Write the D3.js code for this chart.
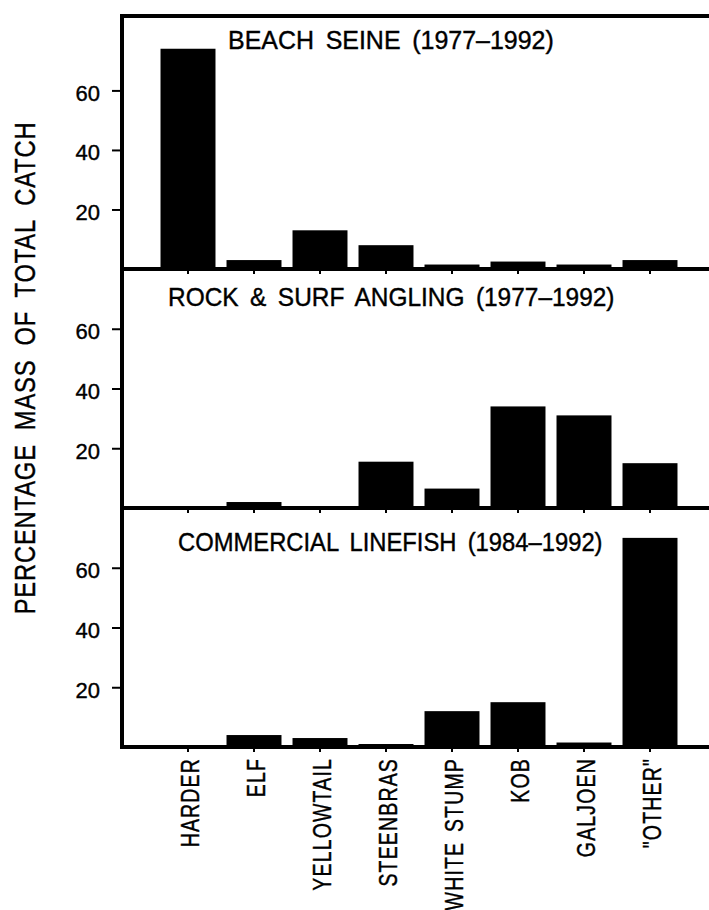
<!DOCTYPE html>
<html>
<head>
<meta charset="utf-8">
<script src="https://cdn.jsdelivr.net/npm/d3@7"></script>
<style>
  html, body { margin: 0; padding: 0; background: #fff; }
  svg { display: block; }
  text { font-family: "Liberation Sans", Arial, Helvetica, sans-serif; fill: #000; stroke: #000; stroke-width: 0.4px; }
</style>
</head>
<body>
<script>
// Species groups along the x axis
const categories = ["HARDER", "ELF", "YELLOWTAIL", "STEENBRAS", "WHITE STUMP", "KOB", "GALJOEN", "\"OTHER\""];

// Percentage of total catch mass per fishery
const beachSeine = [74, 3, 13, 8, 1.5, 2.5, 1.5, 3];
const rockSurfAngling = [0, 2, 0.5, 15.5, 6.5, 34, 31, 15];
const commercialLinefish = [0, 4, 3, 1, 12, 15, 1.5, 70];

// Panel headings
const panelTitles = [
  "BEACH SEINE (1977\u20131992)",
  "ROCK & SURF ANGLING (1977\u20131992)",
  "COMMERCIAL LINEFISH (1984\u20131992)"
];

// Y axis
const yTickValues = [20, 40, 60];
const yMaxima = [85, 80, 80];
const yAxisTitle = "PERCENTAGE MASS OF TOTAL CATCH";

const series = [beachSeine, rockSurfAngling, commercialLinefish];

// ---- layout ----
const W = 709, H = 910;
const left = 122, right = 714;
const panelEdges = [16, 269, 508, 747];           // top of first panel, then each panel's baseline
const titleAnchors = [[228, 49], [168, 305.5], [178, 550.5]];
const titleScales = [0.96, 0.94, 0.915];
const frameWidth = 4;

const svg = d3.select("body").append("svg")
  .attr("width", W).attr("height", H);

const x = d3.scaleBand()
  .domain(categories)
  .range([155, 683])
  .paddingInner(0.167)
  .paddingOuter(0.0835);

series.forEach((values, i) => {
  const top = panelEdges[i], bottom = panelEdges[i + 1];
  const y = d3.scaleLinear().domain([0, yMaxima[i]]).range([bottom, top]);
  const g = svg.append("g").attr("class", "panel");

  // bars
  g.selectAll("rect.bar")
    .data(values.map((v, k) => ({ cat: categories[k], v })))
    .join("rect")
    .attr("class", "bar")
    .attr("x", d => x(d.cat))
    .attr("width", x.bandwidth())
    .attr("y", d => y(d.v))
    .attr("height", d => y(0) - y(d.v))
    .attr("fill", "#000");

  // left value axis
  const ya = g.append("g")
    .attr("transform", `translate(${left},0)`)
    .call(d3.axisLeft(y).tickValues(yTickValues).tickSize(10).tickPadding(12).tickFormat(d3.format("d")));
  ya.select(".domain").remove();
  ya.selectAll(".tick line").attr("stroke", "#000").attr("stroke-width", 2);
  ya.selectAll(".tick text")
    .attr("font-size", 22)
    .attr("dy", "0.45em")
    .attr("font-family", "'Liberation Sans', Arial, sans-serif");

  // category ticks below each baseline
  const xa = g.append("g")
    .attr("transform", `translate(0,${bottom})`)
    .call(d3.axisBottom(x).tickSize(5).tickFormat(i === 2 ? (d => d) : () => ""));
  xa.select(".domain").remove();
  xa.selectAll(".tick line").attr("stroke", "#000").attr("stroke-width", 2);

  if (i === 2) {
    const sx = 0.78;
    xa.selectAll(".tick text")
      .attr("font-size", 25)
      .attr("font-family", "'Liberation Sans', Arial, sans-serif")
      .attr("letter-spacing", "1.5px")
      .attr("word-spacing", "4px")
      .attr("text-anchor", "end")
      .attr("transform", `rotate(-90) scale(${sx},1)`)
      .attr("x", -11 / sx)
      .attr("y", 2)
      .attr("dy", "0.36em");
  }

  // panel heading
  g.append("text")
    .attr("transform", `translate(${titleAnchors[i][0]},${titleAnchors[i][1]}) scale(${titleScales[i]},1)`)
    .attr("font-size", 26)
    .attr("word-spacing", "5px")
    .text(panelTitles[i]);
});

// frame: left edge, top edge and the baseline of each panel
const frame = d3.path();
frame.moveTo(right, panelEdges[0]);
frame.lineTo(left, panelEdges[0]);
frame.lineTo(left, panelEdges[3]);
frame.lineTo(right, panelEdges[3]);
frame.moveTo(left, panelEdges[1]); frame.lineTo(right, panelEdges[1]);
frame.moveTo(left, panelEdges[2]); frame.lineTo(right, panelEdges[2]);
svg.append("path")
  .attr("d", frame.toString())
  .attr("fill", "none")
  .attr("stroke", "#000")
  .attr("stroke-width", frameWidth)
  .attr("stroke-linecap", "square")
  .attr("stroke-linejoin", "miter");

// shared y axis title
svg.append("text")
  .attr("transform", "translate(25,368) rotate(-90) scale(0.82,1)")
  .attr("text-anchor", "middle")
  .attr("dy", "0.36em")
  .attr("font-size", 29)
  .attr("letter-spacing", "1px")
  .attr("word-spacing", "8px")
  .text(yAxisTitle);
</script>
</body>
</html>
